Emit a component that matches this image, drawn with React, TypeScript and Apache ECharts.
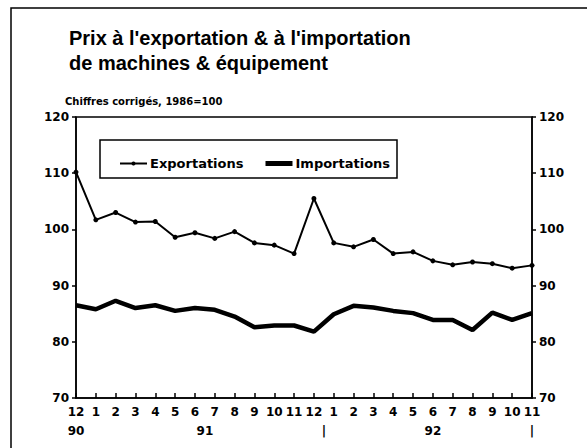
import React, { useEffect, useRef } from "react";
import * as echarts from "echarts";

const months = ["12", "1", "2", "3", "4", "5", "6", "7", "8", "9", "10", "11", "12", "1", "2", "3", "4", "5", "6", "7", "8", "9", "10", "11"];
const exportations = [110.2, 101.7, 103.0, 101.3, 101.4, 98.6, 99.4, 98.4, 99.6, 97.6, 97.2, 95.7, 105.5, 97.6, 96.9, 98.2, 95.7, 96.0, 94.4, 93.7, 94.2, 93.9, 93.1, 93.6];
const importations = [86.5, 85.8, 87.3, 86.0, 86.5, 85.5, 86.0, 85.7, 84.5, 82.6, 82.9, 82.9, 81.8, 84.9, 86.4, 86.1, 85.5, 85.1, 83.9, 83.9, 82.1, 85.2, 83.9, 85.1];
const yearLabels: [number, string][] = [[0, "90"], [6.5, "91"], [12.5, "|"], [18, "92"], [23, "|"]];
const yTicks = [70, 80, 90, 100, 110, 120];

const FONT = "'Liberation Sans', Arial, sans-serif";
const WIDE = "'DejaVu Sans', sans-serif";

export default function App() {
  const ref = useRef<HTMLDivElement>(null);
  useEffect(() => {
    document.body.style.margin = "0";
    const chart = echarts.init(ref.current!, null, { renderer: "svg" });
    const axisLabelStyle = { color: "#000", fontFamily: WIDE, fontWeight: "bold" as const, fontSize: 12 };
    chart.setOption({
      animation: false,
      backgroundColor: "#fff",
      title: {
        text: "Prix à l'exportation & à l'importation\nde machines & équipement",
        left: 64,
        top: 20,
        textStyle: { fontFamily: FONT, fontWeight: "bold", fontSize: 20, lineHeight: 25, color: "#000" },
      },
      graphic: [
        { type: "rect", shape: { x: 11, y: 8, width: 580, height: 460 }, style: { fill: "none", stroke: "#000", lineWidth: 1.5 }, silent: true },
        { type: "text", x: 65, y: 96, style: { text: "Chiffres corrigés, 1986=100", font: `bold 10px ${WIDE}`, fill: "#000" } },
        { type: "rect", shape: { x: 100, y: 140, width: 297, height: 38 }, style: { fill: "#fff", stroke: "#000", lineWidth: 1.5 }, z: 10 },
      ],
      legend: {
        left: 114,
        top: 152,
        itemWidth: 27,
        itemHeight: 5,
        itemGap: 22,
        z: 20,
        textStyle: { fontFamily: WIDE, fontWeight: "bold", fontSize: 13, color: "#000", padding: [0, 0, 0, -2] },
        data: [
          { name: "Exportations" },
          { name: "Importations", icon: "rect", itemStyle: { color: "#000" } },
        ],
      },
      grid: { left: 76, right: 55, top: 117, bottom: 50, show: true, borderColor: "#000", borderWidth: 1.5 },
      xAxis: [
        {
          type: "category",
          data: months,
          boundaryGap: false,
          axisLine: { lineStyle: { color: "#000", width: 1.5 } },
          axisTick: { inside: true, length: 5, lineStyle: { color: "#000", width: 1.5 }, interval: 0 },
          axisLabel: { ...axisLabelStyle, interval: 0, margin: 8 },
        },
        {
          type: "value",
          position: "bottom",
          offset: 19,
          min: 0,
          max: 23,
          interval: 0.5,
          axisLine: { show: false },
          axisTick: { show: false },
          splitLine: { show: false },
          axisLabel: {
            ...axisLabelStyle,
            margin: 8,
            showMinLabel: true,
            showMaxLabel: true,
            formatter: (v: number) => {
              const f = yearLabels.find((y) => Math.abs(y[0] - v) < 0.01);
              return f ? f[1] : "";
            },
          },
        },
      ],
      yAxis: [
        {
          type: "value",
          min: yTicks[0],
          max: yTicks[yTicks.length - 1],
          interval: 10,
          position: "left",
          axisLine: { show: true, lineStyle: { color: "#000", width: 1.5 } },
          axisTick: { show: true, length: 4, lineStyle: { color: "#000", width: 1.5 } },
          splitLine: { show: false },
          axisLabel: { ...axisLabelStyle, margin: 7 },
        },
        {
          type: "value",
          min: yTicks[0],
          max: yTicks[yTicks.length - 1],
          interval: 10,
          position: "right",
          axisLine: { show: true, lineStyle: { color: "#000", width: 1.5 } },
          axisTick: { show: true, length: 4, lineStyle: { color: "#000", width: 1.5 } },
          splitLine: { show: false },
          axisLabel: { ...axisLabelStyle, margin: 7 },
        },
      ],
      series: [
        {
          name: "Exportations",
          type: "line",
          data: exportations,
          symbol: "circle",
          symbolSize: 5,
          lineStyle: { color: "#000", width: 2 },
          itemStyle: { color: "#000" },
        },
        {
          name: "Importations",
          type: "line",
          data: importations,
          symbol: "none",
          lineStyle: { color: "#000", width: 4.5 },
          itemStyle: { color: "#000" },
        },
      ],
    });
    return () => chart.dispose();
  }, []);
  return <div ref={ref} style={{ width: 587, height: 448 }} />;
}
